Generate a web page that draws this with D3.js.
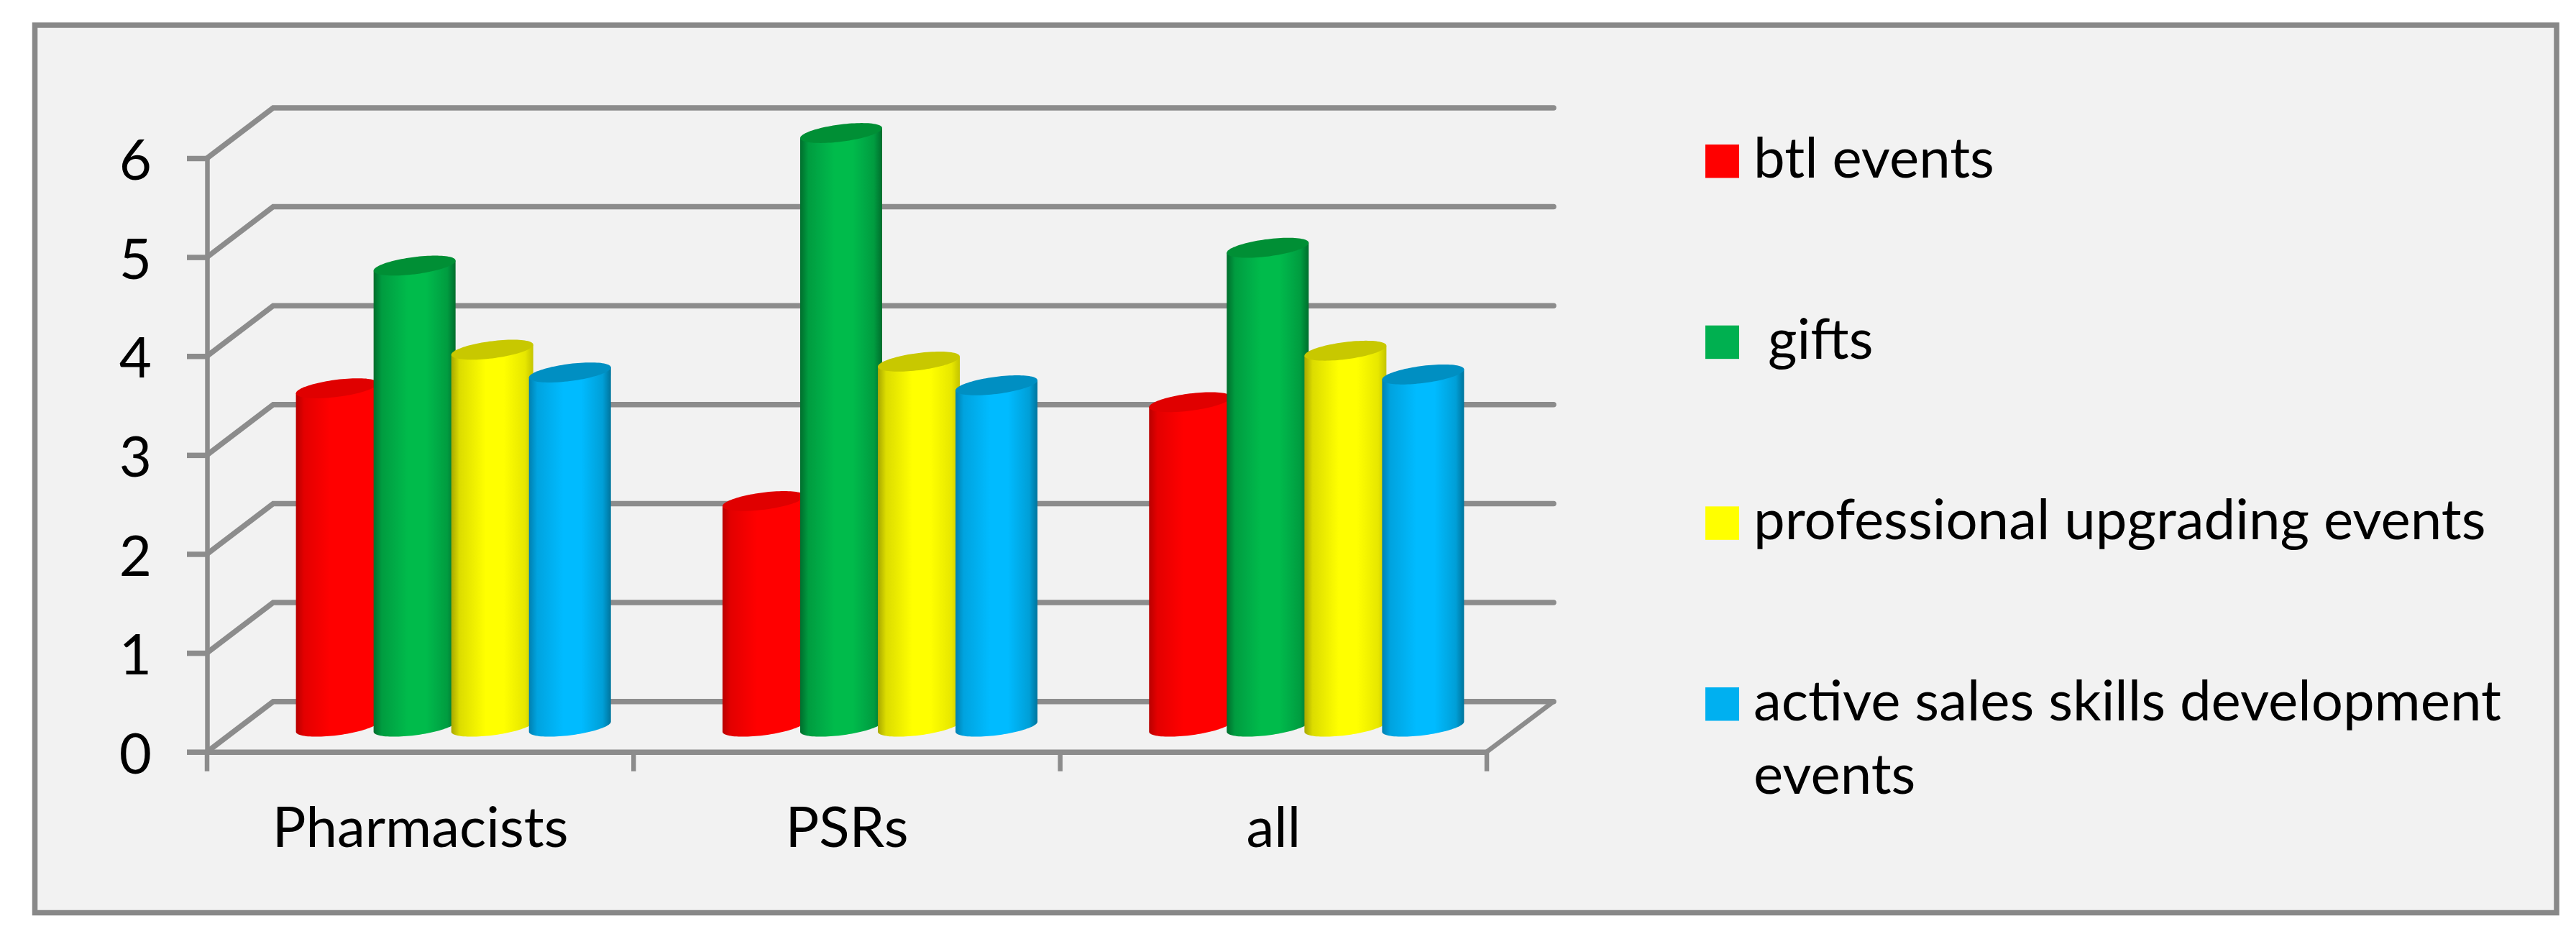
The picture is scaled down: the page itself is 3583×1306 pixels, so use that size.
<!DOCTYPE html>
<html>
	<head>
		<meta charset="utf-8" />
		<script src="https://d3js.org/d3.v7.min.js"></script>
		<style>
			html, body {
				margin: 0;
				background: #fff;
			}
			svg {
				display: block;
			}
			text {
				font-family: Lato, "Open Sans", sans-serif;
				fill: #000;
			}
			.axis-line {
				stroke: #8c8c8c;
				stroke-width: 7.5;
				fill: none;
			}
			.axis-line.thin {
				stroke-width: 6.5;
			}
		</style>
		<title>3D cylinder chart</title>
	</head>
	<body>
		<svg id="chart" width="3583" height="1306"></svg>
		<script>
			// data
			const categories = ["Pharmacists", "PSRs", "all"];
			const seriesNames = [
				"btl events",
				" gifts",
				"professional upgrading events",
				"active sales skills development events",
			];
			const btlValues = [3.42, 2.28, 3.28];
			const giftValues = [4.66, 6.0, 4.84];
			const upgradingValues = [3.81, 3.69, 3.8];
			const salesValues = [3.58, 3.45, 3.56];
			const seriesValues = [btlValues, giftValues, upgradingValues, salesValues];
			const yTicks = [0, 1, 2, 3, 4, 5, 6];

			// colours: legend/body, top cap, left edge, right edge
			const bodyColors = ["#ff0000", "#00bb4c", "#ffff00", "#00bbff"];
			const legendColors = ["#ff0000", "#00b050", "#ffff00", "#00b0f0"];
			const capColors = ["#e00000", "#008f36", "#c8c800", "#008fc2"];
			const leftColors = ["#b80000", "#006e2d", "#a8a800", "#0080b0"];
			const rightColors = ["#ff0000", "#006e2d", "#c4c400", "#00749c"];

			const depthX = 92, // how far the back wall sits from the front plane
				depthY = -70,
				capA = 57, // cylinder half width
				capB = 12,
				capTilt = 7, // the caps lean up to the right
				fontSize = 78;

			const svg = d3.select("#chart");

			const x0 = d3.scaleBand().domain(categories).range([288, 2068]);
			const x1 = d3
				.scaleBand()
				.domain(d3.range(seriesNames.length))
				.range([0, x0.bandwidth()])
				.paddingInner(0)
				.paddingOuter(0.746);
			const y = d3.scaleLinear().domain([0, 6]).range([1045.7, 220]);

			// frame
			svg
				.append("rect")
				.attr("x", 48.5)
				.attr("y", 35)
				.attr("width", 3507.5)
				.attr("height", 1234.5)
				.attr("fill", "#f2f2f2")
				.attr("stroke", "#888888")
				.attr("stroke-width", 7.5);

			const defs = svg.append("defs");
			defs
				.append("filter")
				.attr("id", "soft")
				.append("feGaussianBlur")
				.attr("stdDeviation", 0.7);

			seriesNames.forEach((name, i) => {
				const grad = defs
					.append("linearGradient")
					.attr("id", `body${i}`)
					.attr("x1", 0)
					.attr("x2", 1)
					.attr("y1", 0)
					.attr("y2", 0);
				const leftMix = d3.interpolateRgb(leftColors[i], bodyColors[i]);
				const rightMix = d3.interpolateRgb(rightColors[i], bodyColors[i]);
				[
					[0, leftColors[i]],
					[0.1, leftMix(0.6)],
					[0.42, bodyColors[i]],
					[0.64, bodyColors[i]],
					[0.9, rightMix(0.6)],
					[1, rightColors[i]],
				].forEach((s) =>
					grad.append("stop").attr("offset", s[0]).attr("stop-color", s[1])
				);
			});

			// walls: back lines and the diagonals coming forward to the value axis
			const grid = svg.append("g").attr("filter", "url(#soft)");
			const wallLine = d3.line();
			grid
				.selectAll("path.wall")
				.data(yTicks)
				.join("path")
				.attr("class", "axis-line wall")
				.attr("stroke-linecap", "round")
				.attr("d", (d) =>
					wallLine([
						[x0.range()[0], y(d)],
						[x0.range()[0] + depthX, y(d) + depthY],
						[x0.range()[1] + depthX + 1, y(d) + depthY],
					])
				);
			grid
				.append("path")
				.attr("class", "axis-line thin")
				.attr("d", wallLine([
					[x0.range()[1], y(0)],
					[x0.range()[1] + depthX + 1, y(0) + depthY],
				]));

			// value axis
			const yAxis = d3
				.axisLeft(y)
				.tickValues(yTicks)
				.tickFormat(d3.format("d"))
				.tickSize(28)
				.tickSizeOuter(0)
				.tickPadding(49);
			const yG = svg
				.append("g")
				.attr("transform", `translate(${x0.range()[0]},0)`)
				.call(yAxis);
			yG.selectAll("path").attr("class", "axis-line thin");
			yG.selectAll("line").attr("class", "axis-line");
			yG.selectAll("text").attr("font-size", fontSize).attr("dy", "0.38em");

			// category axis, ticks go on the band edges
			const xG = svg
				.append("g")
				.attr("transform", `translate(0,${y(0)})`)
				.call(d3.axisBottom(x0).tickSize(0).tickPadding(72));
			xG.select("path").attr("class", "axis-line");
			xG.selectAll("text").attr("font-size", fontSize).attr("dy", 0);
			xG.selectAll("text").attr("y", 1178 - y(0));
			xG.selectAll("line.edge")
				.data(categories.map((c) => x0(c)).concat(x0.range()[1]))
				.join("line")
				.attr("class", "axis-line thin edge")
				.attr("x1", (d) => d)
				.attr("x2", (d) => d)
				.attr("y1", 0)
				.attr("y2", 27);

			// cylinders
			const capAngles = d3.range(0, 2 * Math.PI + 0.01, Math.PI / 48);
			const frontAngles = d3.range(Math.PI, -0.01, -Math.PI / 48);
			const rimPoint = (cx, cy, t) => [
				cx + capA * Math.cos(t),
				cy + capB * Math.sin(t) - capTilt * Math.cos(t),
			];
			const rimLine = d3.line();

			const bars = svg.append("g").attr("filter", "url(#soft)");
			categories.forEach((cat, c) => {
				seriesNames.forEach((name, s) => {
					const cx = x0(cat) + x1(s) + x1.bandwidth() / 2 + depthX / 2;
					const topY = y(seriesValues[s][c]) + depthY / 2;
					const baseY = y(0) + depthY / 2;
					const side = frontAngles.map((t) => rimPoint(cx, baseY, t));
					bars
						.append("path")
						.attr(
							"d",
							rimLine(
								[rimPoint(cx, topY, Math.PI)]
									.concat(side)
									.concat([rimPoint(cx, topY, 0)])
							) + "Z"
						)
						.attr("fill", `url(#body${s})`);
					bars
						.append("path")
						.attr("d", rimLine(capAngles.map((t) => rimPoint(cx, topY, t))) + "Z")
						.attr("fill", capColors[s]);
				});
			});

			// legend
			const legendY = d3
				.scalePoint()
				.domain(d3.range(seriesNames.length))
				.range([201, 956]);
			const legend = svg
				.append("g")
				.selectAll("g")
				.data(seriesNames)
				.join("g")
				.attr("transform", (d, i) => `translate(2372,${legendY(i)})`);
			legend
				.append("rect")
				.attr("width", 47)
				.attr("height", 46.5)
				.attr("fill", (d, i) => legendColors[i]);
			const legendText = legend
				.append("text")
				.attr("x", 67)
				.attr("y", 46)
				.attr("font-size", fontSize)
				.attr("xml:space", "preserve")
				.style("white-space", "pre");

			// wrap long entries on spaces, the leading space of " gifts" is kept
			legendText.each(function (d) {
				const el = d3.select(this);
				const maxWidth = 1100;
				let line = "";
				let tspan = el.append("tspan").attr("x", 67);
				d.split(" ").forEach((word, i) => {
					const attempt = i === 0 ? word : line + " " + word;
					tspan.text(attempt);
					if (tspan.node().getComputedTextLength() > maxWidth && line) {
						tspan.text(line);
						tspan = el.append("tspan").attr("x", 67).attr("dy", 102).text(word);
						line = word;
					} else {
						line = attempt;
					}
				});
			});
		</script>
	</body>
</html>
